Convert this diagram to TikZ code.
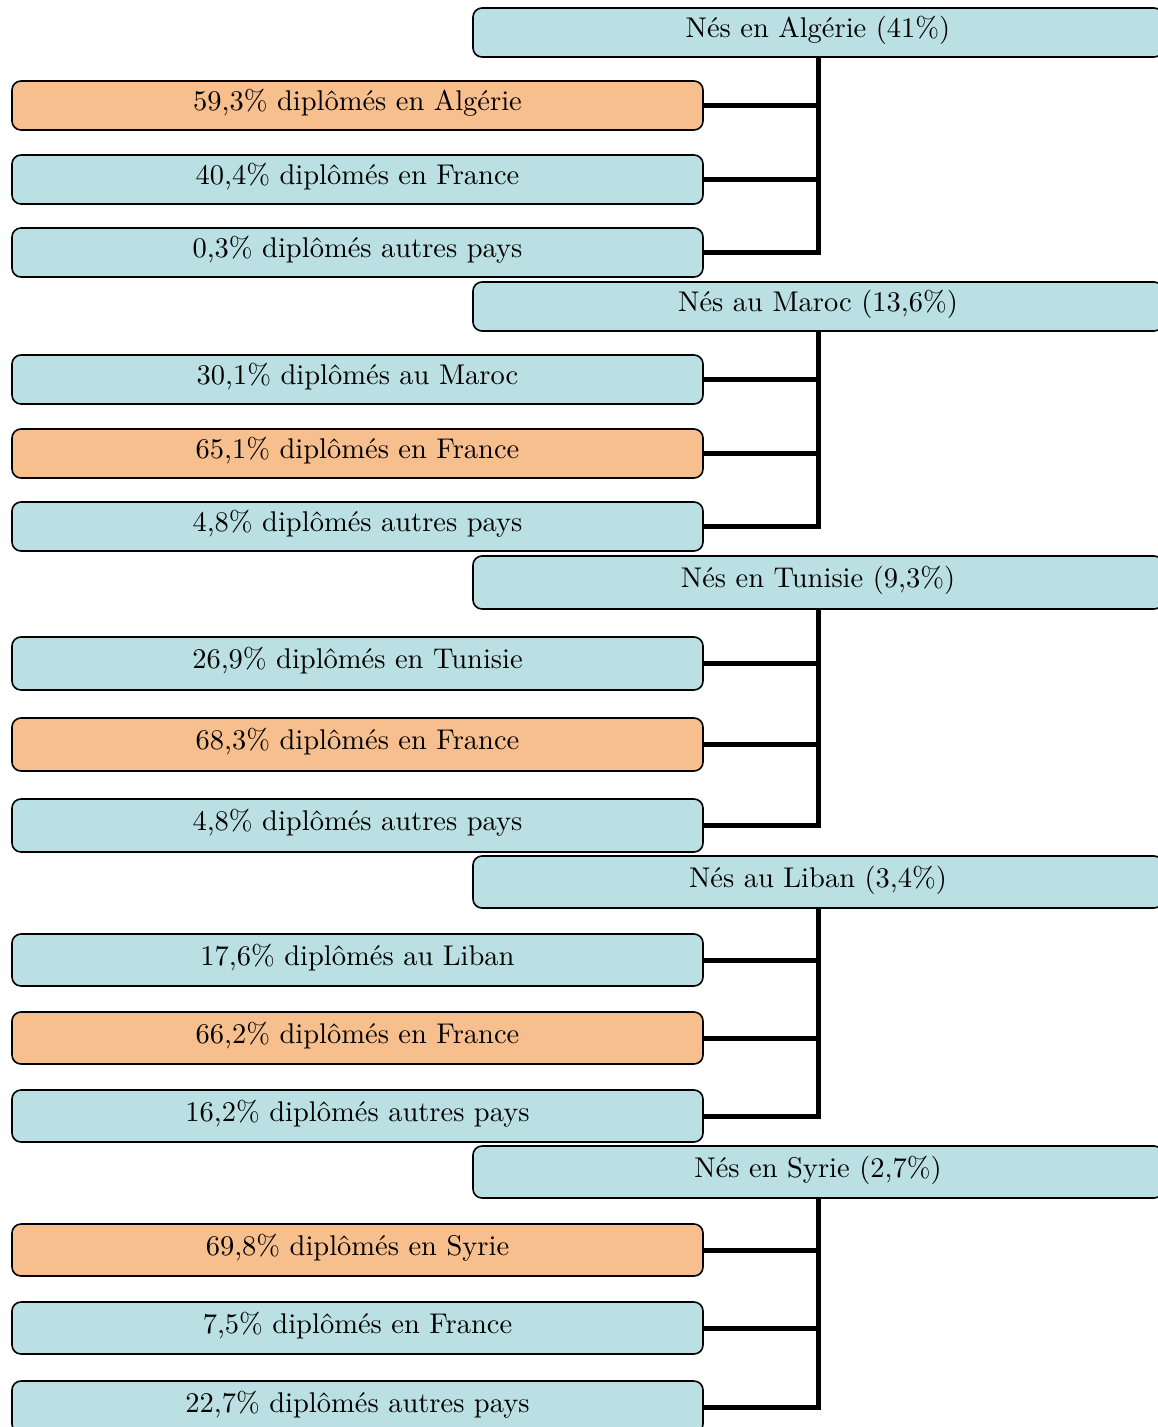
\documentclass[tikz,border=0pt]{standalone}
\usepackage{fontspec}
\setmainfont{lmroman10-regular}[Extension=.otf]
\usepackage{tikz}
\definecolor{boxblue}{RGB}{187,224,227}
\definecolor{boxorange}{RGB}{248,191,142}
\tikzset{
  basebox/.style={draw=black, line width=1.6pt, rounded corners=9pt, inner sep=0pt,
    font=\fontsize{28.5}{32}\selectfont, text height=19pt, text depth=9pt},
  parentbox/.style={basebox, fill=boxblue, minimum width=690pt},
  childblue/.style={basebox, fill=boxblue, minimum width=691pt},
  childorange/.style={basebox, fill=boxorange, minimum width=691pt},
  conn/.style={draw=black, line width=5pt, line join=miter},
}
\begin{document}
\begin{tikzpicture}[x=1pt,y=-1pt]
\useasboundingbox (0,0) rectangle (1158,1427);
\clip (0,0) rectangle (1158,1427);
\fill[white] (0,0) rectangle (1158,1427);

% Group 1
\node[parentbox, minimum height=49pt] (p1) at (818,32.5) {Nés en Algérie (41\%)};
\node[childorange, minimum height=49pt] (c11) at (357.5,105.5) {59,3\% diplômés en Algérie};
\node[childblue, minimum height=49pt] (c12) at (357.5,179.5) {40,4\% diplômés en France};
\node[childblue, minimum height=49pt] (c13) at (357.5,252.5) {0,3\% diplômés autres pays};

% Group 2
\node[parentbox, minimum height=49pt] (p2) at (818,306.5) {Nés au Maroc (13,6\%)};
\node[childblue, minimum height=49pt] (c21) at (357.5,379.5) {30,1\% diplômés au Maroc};
\node[childorange, minimum height=49pt] (c22) at (357.5,453.5) {65,1\% diplômés en France};
\node[childblue, minimum height=49pt] (c23) at (357.5,526.5) {4,8\% diplômés autres pays};

% Group 3
\node[parentbox, minimum height=53pt] (p3) at (818,582.5) {Nés en Tunisie (9,3\%)};
\node[childblue, minimum height=53pt] (c31) at (357.5,663.5) {26,9\% diplômés en Tunisie};
\node[childorange, minimum height=53pt] (c32) at (357.5,744.5) {68,3\% diplômés en France};
\node[childblue, minimum height=53pt] (c33) at (357.5,825.5) {4,8\% diplômés autres pays};

% Group 4
\node[parentbox, minimum height=52pt] (p4) at (818,882) {Nés au Liban (3,4\%)};
\node[childblue, minimum height=52pt] (c41) at (357.5,960) {17,6\% diplômés au Liban};
\node[childorange, minimum height=52pt] (c42) at (357.5,1038) {66,2\% diplômés en France};
\node[childblue, minimum height=52pt] (c43) at (357.5,1116) {16,2\% diplômés autres pays};

% Group 5
\node[parentbox, minimum height=52pt] (p5) at (818,1172) {Nés en Syrie (2,7\%)};
\node[childorange, minimum height=52pt] (c51) at (357.5,1250) {69,8\% diplômés en Syrie};
\node[childblue, minimum height=52pt] (c52) at (357.5,1328) {7,5\% diplômés en France};
\node[childblue, minimum height=52pt] (c53) at (357.5,1407) {22,7\% diplômés autres pays};

% Connectors
\foreach \g in {1,2,3,4,5}{
  \draw[conn] (p\g.south) -- (p\g.south |- c\g3.east) -- (c\g3.east);
  \draw[conn] (c\g1.east) -- (c\g1.east -| p\g.south);
  \draw[conn] (c\g2.east) -- (c\g2.east -| p\g.south);
}
\end{tikzpicture}
\end{document}
